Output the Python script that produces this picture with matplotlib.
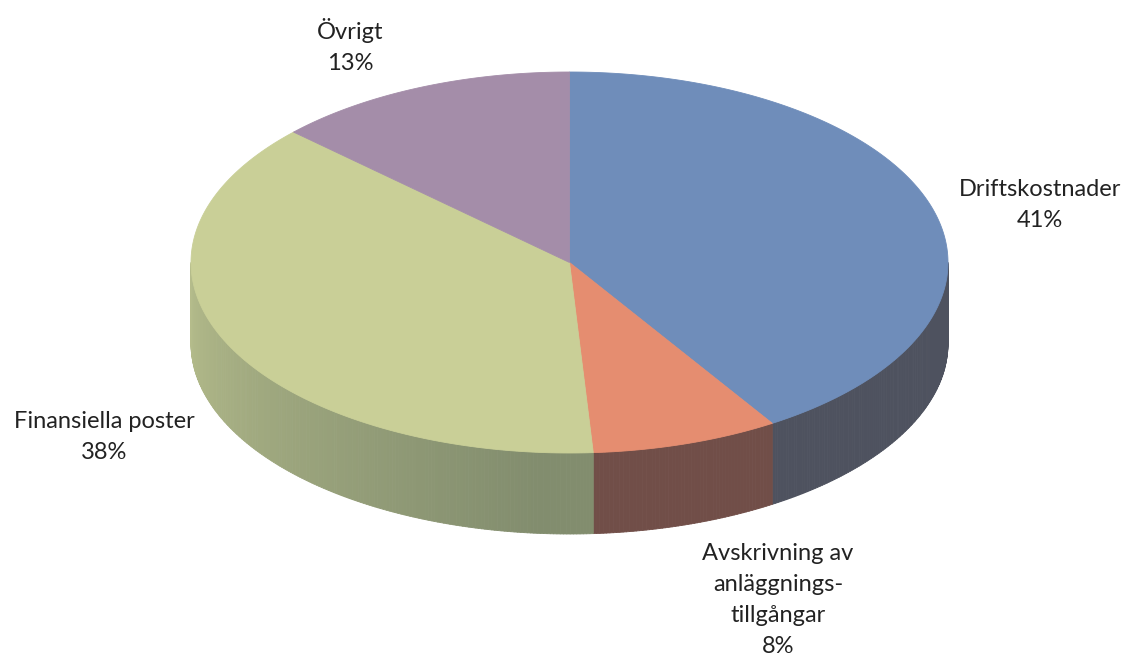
import numpy as np
import matplotlib
matplotlib.use("Agg")
import matplotlib.pyplot as plt
from matplotlib.collections import PolyCollection
from matplotlib.patches import Polygon

# ---- data ----
categories = ["Driftskostnader", "Avskrivning av\nanläggnings-\ntillgångar",
              "Finansiella poster", "Övrigt"]
values = [41, 8, 38, 13]

# ---- style ----
top_colors = ["#6F8DBA", "#E58D70", "#C9CF97", "#A48DA9"]
side_dark = [(78, 82, 95), (113, 78, 72), (130, 141, 110), (110, 95, 115)]

W, H = 1127, 661
fig = plt.figure(figsize=(W / 100, H / 100), dpi=100)
ax = fig.add_axes([0, 0, 1, 1])
ax.set_xlim(0, W)
ax.set_ylim(H, 0)
ax.axis("off")

cx, cy, rx, ry, depth = 569.5, 262.5, 378.5, 190.5, 81

vals = np.array(values, dtype=float)
frac = vals / vals.sum()
cum = np.concatenate([[0], np.cumsum(frac)])
t_start = -90 + 360 * cum[:-1]
t_end = -90 + 360 * cum[1:]


def hex2rgb(h):
    h = h.lstrip("#")
    return np.array([int(h[i:i + 2], 16) for i in (0, 2, 4)], dtype=float)


# ---- sides (front half only: t in [0,180]) ----
polys, cols = [], []
for i in range(len(vals)):
    a0, a1 = t_start[i], t_end[i]
    for shift in (-360, 0, 360):
        s0, s1 = max(a0 + shift, 0), min(a1 + shift, 180)
        if s1 <= s0:
            continue
        n = max(int((s1 - s0) / 0.5), 1)
        edges = np.linspace(s0, s1, n + 1)
        top = hex2rgb(top_colors[i])
        dark = np.array(side_dark[i], dtype=float)
        for k in range(n):
            ta, tb = np.radians(edges[k]), np.radians(edges[k + 1])
            xa, ya = cx + rx * np.cos(ta), cy + ry * np.sin(ta)
            xb, yb = cx + rx * np.cos(tb), cy + ry * np.sin(tb)
            polys.append([(xa, ya), (xb, yb), (xb, yb + depth), (xa, ya + depth)])
            tm = 0.5 * (edges[k] + edges[k + 1])
            g = np.clip((tm - 95) / 85, 0, 1) * 0.72
            c = dark * (1 - g) + top * g
            cols.append(tuple(c / 255))
pc = PolyCollection(polys, facecolors=cols, edgecolors=cols, linewidths=0.6,
                    antialiased=True)
ax.add_collection(pc)

# ---- top faces ----
for i in range(len(vals)):
    ts = np.radians(np.linspace(t_start[i], t_end[i], 300))
    pts = [(cx, cy)] + [(cx + rx * np.cos(t), cy + ry * np.sin(t)) for t in ts]
    ax.add_patch(Polygon(pts, closed=True, facecolor=top_colors[i],
                         edgecolor=top_colors[i], linewidth=0.6))

# ---- labels ----
font = dict(family="Lato", fontsize=17, color="#222222", ha="center",
            va="center", linespacing=1.6)
label_pos = [(1040, 205), (778, 600), (104, 437), (350, 46)]
for i in range(len(vals)):
    txt = f"{categories[i]}\n{values[i]}%"
    ax.text(label_pos[i][0], label_pos[i][1], txt, **font)

fig.savefig("out.png", dpi=100, facecolor="white")
